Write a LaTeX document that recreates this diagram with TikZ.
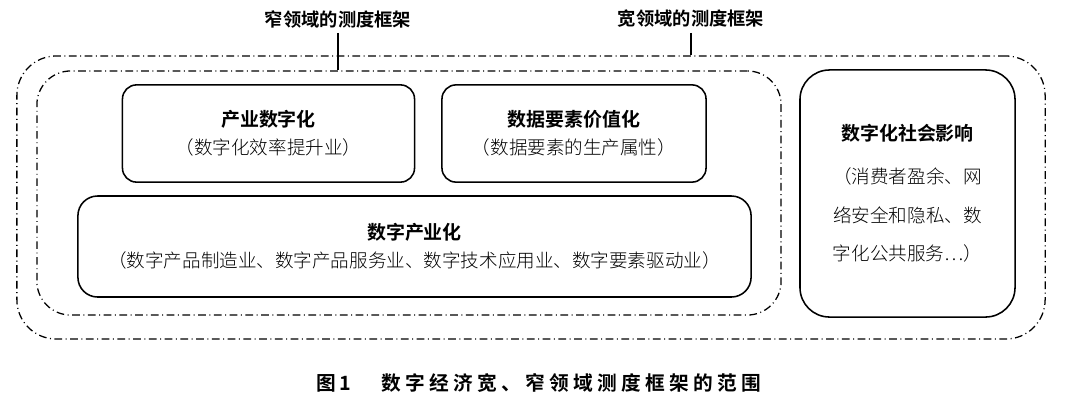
\documentclass[tikz,border=0pt]{standalone}
\usepackage{fontspec}
\setmainfont{Noto Sans CJK SC}[UprightFont=* Light, BoldFont=* Bold]
\usetikzlibrary{positioning}
\tikzset{
  blk/.style={draw, line width=1.1pt, align=center, inner sep=0pt, font=\fontsize{13.2}{20}\selectfont},
  rng/.style={draw, line width=0.9pt, inner sep=0pt,
      dash pattern=on 5.5pt off 2.5pt on 0.7pt off 2.5pt},
  ttl/.style={font=\fontsize{13}{15}\selectfont\bfseries},
  lnk/.style={line width=0.9pt},
}
\newcommand{\hd}[1]{{\fontsize{13.5}{20}\selectfont\bfseries #1}}

\begin{document}
\begin{tikzpicture}[x=0.025cm, y=-0.025cm]
\useasboundingbox (0,0) rectangle (1071,403);
% dashed ranges
\node[rng, rounded corners=28pt, minimum width=25.7cm, minimum height=7.075cm] (wide) at (531,197.5) {};
\node[rng, rounded corners=24pt, minimum width=18.6cm, minimum height=6.1cm] (narrow) at (409,193) {};
\node[ttl] (lnarrow) at (338,19) {窄领域的测度框架};
\node[ttl] (lwide) at (691,19) {宽领域的测度框架};
\draw[lnk] (lnarrow.south) -- (lnarrow.south |- narrow.north);
\draw[lnk] (lwide.south) -- (lwide.south |- wide.north);
% boxes
\node[blk, rounded corners=10pt, minimum width=7.3cm, minimum height=2.43cm] (indig) at (268.5,133.5)
  {\hd{产业数字化}\\（数字化效率提升业）};
\node[blk, rounded corners=10pt, minimum width=6.6cm, minimum height=2.43cm] (dataval) at (574,133.5)
  {\hd{数据要素价值化}\\（数据要素的生产属性）};
\node[blk, rounded corners=14pt, minimum width=16.825cm, minimum height=2.525cm] (digind) at (414.5,246.5)
  {\hd{数字产业化}\\（数字产品制造业、数字产品服务业、数字技术应用业、数字要素驱动业）};
\node[blk, rounded corners=21pt, minimum width=5.375cm, minimum height=6.175cm,
  font=\fontsize{13.2}{27.5}\selectfont] (social) at (907.5,193.5)
  {\hd{数字化社会影响}\\[3pt]（消费者盈余、网\\络安全和隐私、数\\字化公共服务…）};
% caption
\node[font=\fontsize{14}{16}\selectfont\bfseries] (cap) at (539,383)
  {图\,1\hspace{1.5em}{\addfontfeatures{LetterSpace=22}数字经济宽、窄领域测度框架的范围}};
\end{tikzpicture}
\end{document}
